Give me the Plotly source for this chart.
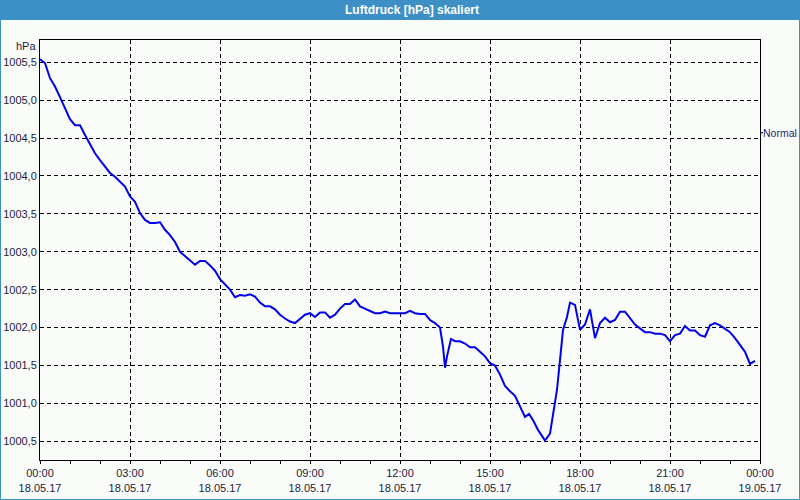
import plotly.graph_objects as go

# ---- data ----
times = [
    "00:00", "00:10", "00:20", "00:30", "00:40", "00:50", "01:00", "01:10", "01:20", "01:30",
    "01:40", "01:50", "02:00", "02:10", "02:20", "02:30", "02:40", "02:50", "03:00", "03:10",
    "03:20", "03:30", "03:40", "03:50", "04:00", "04:10", "04:20", "04:30", "04:40", "04:50",
    "05:00", "05:10", "05:20", "05:30", "05:40", "05:50", "06:00", "06:10", "06:20", "06:30",
    "06:40", "06:50", "07:00", "07:10", "07:20", "07:30", "07:40", "07:50", "08:00", "08:10",
    "08:20", "08:30", "08:40", "08:50", "09:00", "09:10", "09:20", "09:30", "09:40", "09:50",
    "10:00", "10:10", "10:20", "10:30", "10:40", "10:50", "11:00", "11:10", "11:20", "11:30",
    "11:40", "11:50", "12:00", "12:10", "12:20", "12:30", "12:40", "12:50", "13:00", "13:10",
    "13:20", "13:26", "13:30", "13:34", "13:42", "13:50", "14:00", "14:10", "14:20", "14:30",
    "14:40", "14:50", "15:00", "15:10", "15:20", "15:30", "15:40", "15:50", "16:00", "16:10",
    "16:18", "16:26", "16:36", "16:50", "17:00", "17:06", "17:14", "17:20", "17:26", "17:34",
    "17:40", "17:50", "18:00", "18:10", "18:20", "18:30", "18:40", "18:50", "19:00", "19:10",
    "19:20", "19:30", "19:40", "19:50", "20:00", "20:10", "20:20", "20:30", "20:40", "20:50",
    "21:00", "21:10", "21:20", "21:30", "21:40", "21:50", "22:00", "22:10", "22:20", "22:30",
    "22:40", "22:50", "23:00", "23:10", "23:20", "23:30", "23:40", "23:50",
]
pressure = [
    1005.54, 1005.49, 1005.29, 1005.18, 1005.04, 1004.90, 1004.75, 1004.67, 1004.67, 1004.54,
    1004.41, 1004.30, 1004.21, 1004.12, 1004.04, 1003.99, 1003.92, 1003.86, 1003.73, 1003.66,
    1003.51, 1003.42, 1003.38, 1003.38, 1003.39, 1003.29, 1003.22, 1003.13, 1003.00, 1002.94,
    1002.88, 1002.83, 1002.88, 1002.88, 1002.82, 1002.75, 1002.64, 1002.57, 1002.50, 1002.40,
    1002.43, 1002.42, 1002.44, 1002.41, 1002.33, 1002.28, 1002.28, 1002.24, 1002.17, 1002.12,
    1002.08, 1002.06, 1002.11, 1002.17, 1002.19, 1002.14, 1002.20, 1002.20, 1002.13, 1002.17,
    1002.25, 1002.31, 1002.31, 1002.37, 1002.28, 1002.25, 1002.21, 1002.19, 1002.19, 1002.21,
    1002.19, 1002.19, 1002.19, 1002.19, 1002.22, 1002.19, 1002.18, 1002.18, 1002.10, 1002.06,
    1002.00, 1001.75, 1001.47, 1001.62, 1001.85, 1001.82, 1001.82, 1001.79, 1001.74, 1001.74,
    1001.68, 1001.62, 1001.53, 1001.50, 1001.38, 1001.23, 1001.16, 1001.10, 1000.96, 1000.82,
    1000.86, 1000.78, 1000.65, 1000.51, 1000.60, 1000.87, 1001.18, 1001.57, 1001.97, 1002.14,
    1002.33, 1002.30, 1001.97, 1002.04, 1002.24, 1001.86, 1002.06, 1002.13, 1002.07, 1002.10,
    1002.21, 1002.21, 1002.12, 1002.04, 1001.99, 1001.94, 1001.94, 1001.92, 1001.92, 1001.90,
    1001.82, 1001.90, 1001.92, 1002.02, 1001.96, 1001.96, 1001.90, 1001.88, 1002.03, 1002.06,
    1002.03, 1001.99, 1001.94, 1001.86, 1001.77, 1001.68, 1001.52, 1001.56,
]
date = "2017-05-18"
x_tick_times = ["2017-05-18 00:00", "2017-05-18 03:00", "2017-05-18 06:00", "2017-05-18 09:00",
                "2017-05-18 12:00", "2017-05-18 15:00", "2017-05-18 18:00", "2017-05-18 21:00",
                "2017-05-19 00:00"]
x_tick_labels = ["00:00<br>18.05.17", "03:00<br>18.05.17", "06:00<br>18.05.17", "09:00<br>18.05.17",
                 "12:00<br>18.05.17", "15:00<br>18.05.17", "18:00<br>18.05.17", "21:00<br>18.05.17",
                 "00:00<br>19.05.17"]
y_tick_vals = [1000.5, 1001.0, 1001.5, 1002.0, 1002.5, 1003.0, 1003.5, 1004.0, 1004.5, 1005.0, 1005.5]
y_range = [1000.253, 1005.794]
normal_level = 1004.57
title = "Luftdruck [hPa] skaliert"

x_values = [f"{date} {t}" for t in times]

BG = "#fafcfa"
BLUE_BAR = "#3d90c6"
TXT = "#1c1c3c"
FONT = "Liberation Sans"

fig = go.Figure()
fig.add_trace(go.Scatter(
    x=x_values, y=pressure, mode="lines",
    line=dict(color="#0000ee", width=2),
    showlegend=False, hoverinfo="skip",
))

fig.update_layout(
    width=800, height=500,
    margin=dict(l=40, r=40, t=40, b=40, autoexpand=False),
    paper_bgcolor=BG, plot_bgcolor=BG,
    separators=",.",
    font=dict(family=FONT, size=11, color=TXT),
    showlegend=False,
)

fig.update_xaxes(
    type="date", automargin=False,
    range=["2017-05-18 00:00", "2017-05-19 00:00"],
    tickvals=x_tick_times, ticktext=x_tick_labels,
    showgrid=True, gridcolor="#000000", gridwidth=1, griddash="4px,3px",
    showline=True, linecolor="#000000", linewidth=1, mirror=True,
    ticks="outside", ticklen=3, tickcolor="#000000",
    minor=dict(dtick=3600000, tick0="2017-05-18 00:00", ticks="outside", ticklen=3,
               tickcolor="#000000", showgrid=False),
    zeroline=False,
    tickfont=dict(family=FONT, size=11, color=TXT),
)
fig.update_yaxes(
    automargin=False,
    range=y_range,
    tickvals=y_tick_vals, tickformat=".1f",
    showgrid=True, gridcolor="#000000", gridwidth=1, griddash="4px,3px",
    showline=True, linecolor="#000000", linewidth=1, mirror=True,
    ticks="", zeroline=False,
    tickfont=dict(family=FONT, size=11, color=TXT),
)

# title bar
fig.add_shape(type="rect", xref="paper", yref="paper",
              x0=-40/720, x1=760/720, y0=1 + 20/420, y1=1 + 40/420,
              fillcolor=BLUE_BAR, line=dict(width=0), layer="below")
# outer frame
fig.add_shape(type="rect", xref="paper", yref="paper",
              x0=-39.5/720, x1=759.5/720, y0=-39.5/420, y1=1 + 39.5/420,
              fillcolor="rgba(0,0,0,0)", line=dict(color=BLUE_BAR, width=1))

fig.add_annotation(text="<b>" + title + "</b>", xref="paper", yref="paper",
                   x=(412 - 40) / 720, y=1 + 30/420, xanchor="center", yanchor="middle",
                   showarrow=False, font=dict(family=FONT, size=12, color="#ffffff"))
fig.add_annotation(text="hPa", xref="paper", yref="paper", x=0, y=1,
                   xanchor="right", yanchor="middle", xshift=-2, yshift=-6,
                   showarrow=False, font=dict(family=FONT, size=11, color=TXT))
# right-side "Normal" label with small tick
fig.add_shape(type="line", xref="paper", yref="y", x0=1, x1=1 + 3/720,
              y0=normal_level, y1=normal_level, line=dict(color="#000000", width=1))
fig.add_annotation(text="Normal", xref="paper", yref="y", x=1, y=normal_level,
                   xanchor="left", yanchor="middle", xshift=1,
                   showarrow=False, font=dict(family=FONT, size=10.5, color="#1c1c6c"))

fig.write_html("out.html")
